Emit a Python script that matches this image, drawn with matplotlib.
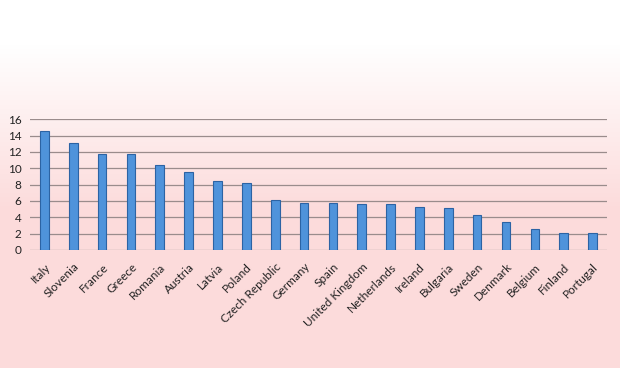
import numpy as np
import matplotlib
matplotlib.use("Agg")
import matplotlib.pyplot as plt

countries = ["Italy", "Slovenia", "France", "Greece", "Romania", "Austria", "Latvia",
             "Poland", "Czech Republic", "Germany", "Spain", "United Kingdom",
             "Netherlands", "Ireland", "Bulgaria", "Sweden", "Denmark", "Belgium",
             "Finland", "Portugal"]
values = [14.6, 13.1, 11.7, 11.7, 10.4, 9.5, 8.5, 8.2, 6.1, 5.75, 5.75, 5.6,
          5.6, 5.3, 5.1, 4.3, 3.4, 2.6, 2.05, 2.05]
yticks = [0, 2, 4, 6, 8, 10, 12, 14, 16]

plt.rcParams['font.family'] = ['Lato', 'DejaVu Sans']

fig = plt.figure(figsize=(6.2, 3.68), dpi=100)

# background gradient
bg = fig.add_axes([0, 0, 1, 1], zorder=0)
h = 368
t = np.linspace(0, 1, h)
prof = np.clip((t - 0.12) / 0.45, 0, 1)
top = np.array([1.0, 1.0, 1.0])
bot = np.array([0.99, 0.86, 0.86])
cols = top[None, :] * (1 - prof[:, None]) + bot[None, :] * prof[:, None]
img = np.repeat(cols[:, None, :], 2, axis=1)
bg.imshow(img, aspect='auto', extent=[0, 1, 0, 1], origin='upper')
bg.axis('off')

ax = fig.add_axes([0.0484, 0.3207, 0.9306, 0.3551], zorder=1)
ax.patch.set_alpha(0)
x = np.arange(len(countries))
ax.bar(x, values, width=0.3, color='#4f93db', edgecolor='#2c63a4', linewidth=0.8, zorder=3)
ax.set_xlim(-0.5, len(countries) - 0.5)
ax.set_ylim(0, 16)
ax.set_yticks(yticks)
ax.set_yticklabels([str(v) for v in yticks], fontsize=8.5, color='#222222')
ax.yaxis.grid(True, color='#9a8c8c', linewidth=0.9, zorder=0)
ax.set_axisbelow(True)
ax.set_xticks(x)
ax.set_xticklabels(countries, rotation=45, ha='right', rotation_mode='anchor',
                   fontsize=8.5, color='#222222')
ax.tick_params(axis='both', length=0, pad=6)
ax.tick_params(axis='x', pad=8)
for s in ax.spines.values():
    s.set_visible(False)

fig.savefig("out.png", dpi=100)
